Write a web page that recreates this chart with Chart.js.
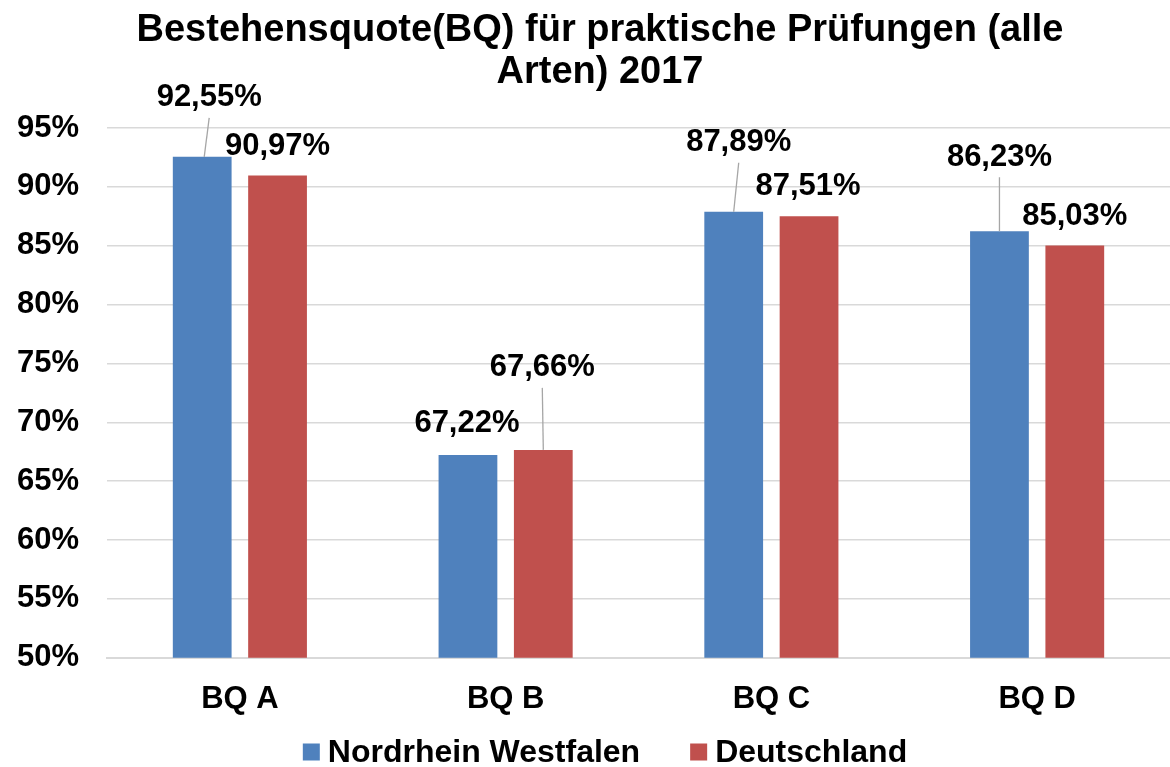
<!DOCTYPE html>
<html>
<head>
<meta charset="utf-8">
<script src="https://cdn.jsdelivr.net/npm/chart.js@4/dist/chart.umd.min.js"></script>
<style>
html,body{margin:0;padding:0;background:#fff;}
#wrap{width:1170px;height:767px;}
</style>
</head>
<body>
<div id="wrap"><canvas id="chart"></canvas></div>
<script>
const categories=['BQ A','BQ B','BQ C','BQ D'];
const nrwValues=[92.55,67.22,87.89,86.23];
const deValues=[90.97,67.66,87.51,85.03];
const yTicks=[50,55,60,65,70,75,80,85,90,95];
const titleLines=['Bestehensquote(BQ) für praktische Prüfungen (alle','Arten) 2017'];

// label placement relative to bar top (px), leader = connector line
const labelPos=[
  [{dx:7,dy:-59,leader:true,sx:2},{dx:-1,dy:-32},{dx:5,dy:-69,leader:true,sx:0},{dx:0,dy:-74,leader:true,sx:0}],
  [{dx:0,dy:-29},{dx:-1,dy:-82,leader:true,sx:0},{dx:-1,dy:-30},{dx:0,dy:-29}]
];

const FONT='"Liberation Sans", Arial, sans-serif';
const fmt=v=>v.toFixed(2).replace('.',',')+'%';

const titlePlugin={
  id:'titleText',
  afterDraw(chart){
    const ctx=chart.ctx;
    ctx.save();
    ctx.font='bold 38px '+FONT;
    ctx.fillStyle='#000';
    ctx.textAlign='center';
    ctx.textBaseline='middle';
    ctx.fillText(titleLines[0],600,31);
    ctx.fillText(titleLines[1],600,73);
    ctx.restore();
  }
};

const labelPlugin={
  id:'barLabels',
  afterDatasetsDraw(chart){
    const ctx=chart.ctx;
    ctx.save();
    ctx.font='bold 31px '+FONT;
    ctx.fillStyle='#000';
    ctx.textAlign='center';
    ctx.textBaseline='middle';
    chart.data.datasets.forEach((ds,di)=>{
      chart.getDatasetMeta(di).data.forEach((bar,i)=>{
        const p=labelPos[di][i];
        const lx=bar.x+p.dx, ly=bar.y+p.dy;
        if(p.leader){
          ctx.strokeStyle='#a6a6a6';
          ctx.lineWidth=1.3;
          ctx.beginPath();
          ctx.moveTo(bar.x+p.sx,bar.y);
          ctx.lineTo(p.dx?lx:bar.x,ly+20);
          ctx.stroke();
        }
        ctx.fillText(fmt(ds.data[i]),lx,ly);
      });
    });
    ctx.restore();
  }
};

// legend drawn under the chart, centred like the original
const legendPlugin={
  id:'bottomLegend',
  afterDraw(chart){
    const ctx=chart.ctx;
    ctx.save();
    ctx.font='bold 32px '+FONT;
    ctx.textBaseline='middle';
    const box=17,gap=8,itemGap=50,cy=752;
    const items=chart.data.datasets.map(ds=>({text:ds.label,color:ds.backgroundColor,w:ctx.measureText(ds.label).width}));
    const total=items.reduce((s,it)=>s+box+gap+it.w,0)+itemGap*(items.length-1);
    let x=605-total/2;
    items.forEach(it=>{
      ctx.fillStyle=it.color;
      ctx.fillRect(x,cy-box/2,box,box);
      ctx.fillStyle='#000';
      ctx.fillText(it.text,x+box+gap,cy+1);
      x+=box+gap+it.w+itemGap;
    });
    ctx.restore();
  }
};

new Chart(document.getElementById('chart'),{
  type:'bar',
  data:{
    labels:categories,
    datasets:[
      {label:'Nordrhein Westfalen',data:nrwValues,backgroundColor:'#4f81bd'},
      {label:'Deutschland',data:deValues,backgroundColor:'#c0504d'}
    ]
  },
  options:{
    responsive:true,
    maintainAspectRatio:false,
    animation:false,
    layout:{padding:{top:128,right:0,left:15,bottom:34}},
    datasets:{bar:{categoryPercentage:0.567,barPercentage:0.78}},
    scales:{
      x:{
        grid:{display:false},
        border:{color:'#d9d9d9',width:2},
        ticks:{color:'#000',padding:15,font:{family:FONT,size:31,weight:'bold'}}
      },
      y:{
        min:50,max:95,
        afterBuildTicks(axis){axis.ticks=yTicks.map(v=>({value:v}));},
        afterFit(axis){axis.width=92;},
        grid:{color:'#d9d9d9',lineWidth:1.5,drawTicks:false},
        border:{display:false},
        ticks:{color:'#000',padding:28,font:{family:FONT,size:31,weight:'bold'},callback:v=>v+'%'}
      }
    },
    plugins:{
      legend:{display:false},
      title:{display:false},
      tooltip:{enabled:false}
    }
  },
  plugins:[titlePlugin,labelPlugin,legendPlugin]
});
</script>
</body>
</html>
